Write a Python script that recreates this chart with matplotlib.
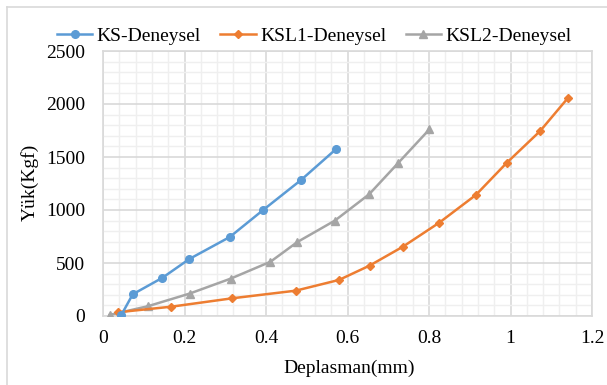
import matplotlib
matplotlib.use("Agg")
import matplotlib.pyplot as plt
from matplotlib.ticker import MultipleLocator
from matplotlib.lines import Line2D

plt.rcParams['font.family'] = ['Liberation Serif', 'DejaVu Serif']

# Data
ks_x = [0.045, 0.073, 0.146, 0.212, 0.311, 0.393, 0.486, 0.572]
ks_y = [10, 205, 361, 538, 745, 1000, 1283, 1575]

ksl1_x = [0.036, 0.168, 0.317, 0.473, 0.579, 0.654, 0.736, 0.825, 0.915, 0.991, 1.072, 1.141]
ksl1_y = [35, 88, 167, 239, 340, 475, 654, 880, 1142, 1446, 1742, 2057]

ksl2_x = [0.016, 0.110, 0.213, 0.313, 0.411, 0.477, 0.569, 0.653, 0.725, 0.801]
ksl2_y = [10, 92, 212, 352, 512, 698, 900, 1148, 1446, 1761]

labels = ["KS-Deneysel", "KSL1-Deneysel", "KSL2-Deneysel"]
x_ticks = [0, 0.2, 0.4, 0.6, 0.8, 1, 1.2]
x_tick_labels = ["0", "0.2", "0.4", "0.6", "0.8", "1", "1.2"]
y_ticks = [0, 500, 1000, 1500, 2000, 2500]

W, H = 607, 385
fig = plt.figure(figsize=(W / 100, H / 100), dpi=100)
ax = fig.add_axes([103 / W, 1 - 316 / H, (592 - 103) / W, (316 - 51) / H])

fs = 14

c_blue = "#5B9BD5"
c_orange = "#ED7D31"
c_gray = "#A5A5A5"

ax.plot(ks_x, ks_y, color=c_blue, lw=1.8, marker='o', ms=5.5, label=labels[0], zorder=5)
ax.plot(ksl1_x, ksl1_y, color=c_orange, lw=1.8, marker='D', ms=4, label=labels[1], zorder=4)
ax.plot(ksl2_x, ksl2_y, color=c_gray, lw=1.8, marker='^', ms=5.5, label=labels[2], zorder=3)

ax.set_xlim(0, 1.2)
ax.set_ylim(0, 2500)
ax.set_xticks(x_ticks)
ax.set_xticklabels(x_tick_labels)
ax.set_yticks(y_ticks)
ax.xaxis.set_minor_locator(MultipleLocator(0.04))
ax.yaxis.set_minor_locator(MultipleLocator(100))
ax.grid(which='major', color='#D9D9D9', lw=1.2, zorder=1)
ax.grid(which='minor', color='#EFEFEF', lw=1.0, zorder=0)
ax.set_axisbelow(True)
for s in ax.spines.values():
    s.set_color('#D9D9D9')
    s.set_linewidth(1.2)
ax.tick_params(which='both', length=0)
ax.tick_params(axis='y', pad=13, labelsize=fs)
ax.tick_params(axis='x', pad=10, labelsize=fs)

fig.text(349 / W, 1 - 368 / H, "Deplasman(mm)", ha='center', va='center', fontsize=fs)
fig.text(30 / W, 1 - 182 / H, "Yük(Kgf)", ha='center', va='center', rotation=90, fontsize=fs)

leg = fig.legend(loc='center', bbox_to_anchor=(314 / W, 1 - 36 / H), ncol=3, frameon=False,
                 fontsize=fs, handlelength=1.85, handletextpad=0.2, columnspacing=1.0,
                 borderaxespad=0, borderpad=0)

# chart border (top and left visible)
fig.add_artist(Line2D([6.5 / W, 1], [1 - 7 / H, 1 - 7 / H], color='#D9D9D9', lw=1.2, transform=fig.transFigure))
fig.add_artist(Line2D([6.5 / W, 6.5 / W], [0, 1 - 7 / H], color='#D9D9D9', lw=1.2, transform=fig.transFigure))

fig.savefig("out.png", dpi=100)
